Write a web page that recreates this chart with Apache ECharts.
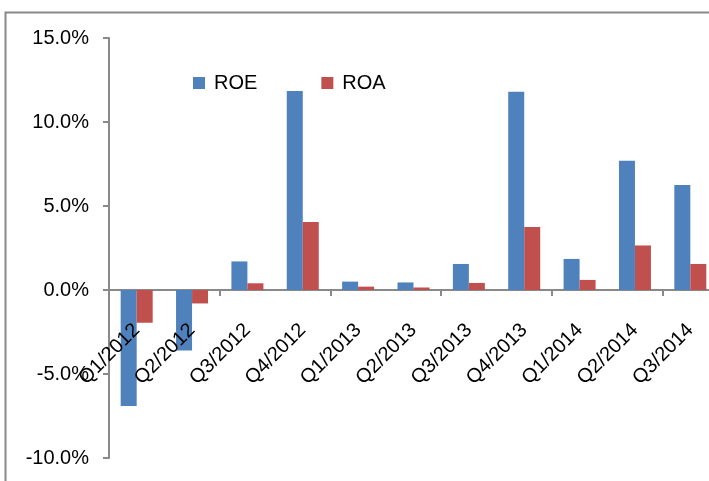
<!DOCTYPE html>
<html>
<head>
<meta charset="utf-8">
<script src="https://cdn.jsdelivr.net/npm/echarts@6/dist/echarts.min.js"></script>
<style>
html,body{margin:0;padding:0;background:#fff;}
#chart{width:709px;height:481px;}
</style>
</head>
<body>
<div id="chart"></div>
<script>
var categories = ['Q1/2012','Q2/2012','Q3/2012','Q4/2012','Q1/2013','Q2/2013','Q3/2013','Q4/2013','Q1/2014','Q2/2014','Q3/2014'];
var roe = [-6.9, -3.6, 1.7, 11.85, 0.5, 0.45, 1.55, 11.8, 1.85, 7.7, 6.25];
var roa = [-1.95, -0.8, 0.4, 4.05, 0.2, 0.15, 0.42, 3.75, 0.6, 2.65, 1.55];
var yMin = -10, yMax = 15, yStep = 5;

var FONT = "'Liberation Sans', Arial, sans-serif";
var GRID_TOP = 38, GRID_H = 420;
// label axis sits where the value axis crosses zero
var zeroOffset = -GRID_H * (0 - yMin) / (yMax - yMin);

var chart = echarts.init(document.getElementById('chart'), null, {renderer: 'canvas'});
chart.setOption({
  animation: false,
  backgroundColor: '#fff',
  textStyle: {fontFamily: FONT},
  graphic: [{
    type: 'rect', left: 3, top: 10, z: 100,
    shape: {x: 0, y: 0, width: 800, height: 600},
    style: {fill: 'none', stroke: '#888', lineWidth: 2}
  }],
  legend: {
    left: 193, top: 73, padding: 0,
    itemWidth: 12, itemHeight: 12, itemGap: 64,
    icon: 'rect',
    textStyle: {fontSize: 20, color: '#000', fontFamily: FONT, padding: [0,0,0,4]},
    data: ['ROE', 'ROA']
  },
  grid: {left: 109, top: GRID_TOP, width: 609, height: GRID_H, containLabel: false, outerBoundsMode: 'none'},
  xAxis: [{
    type: 'category',
    data: categories,
    axisLine: {show: true, onZero: true, lineStyle: {color: '#898989', width: 2}},
    axisTick: {show: true, length: 6, lineStyle: {color: '#898989', width: 2}},
    axisLabel: {show: false},
    splitLine: {show: false}
  }, {
    type: 'category',
    data: categories,
    position: 'bottom',
    offset: zeroOffset,
    z: 10,
    axisLine: {show: false, onZero: false},
    axisTick: {show: false},
    axisLabel: {show: true, rotate: 45, interval: 0, margin: 37, fontSize: 20, color: '#000', fontFamily: FONT},
    splitLine: {show: false}
  }],
  yAxis: {
    type: 'value',
    min: yMin, max: yMax, interval: yStep,
    axisLine: {show: true, lineStyle: {color: '#898989', width: 2}},
    axisTick: {show: true, length: 6, lineStyle: {color: '#898989', width: 2}},
    axisLabel: {margin: 20, fontSize: 20, color: '#000', fontFamily: FONT,
      formatter: function(v){ return v.toFixed(1) + '%'; }},
    splitLine: {show: false}
  },
  series: [
    {name: 'ROE', type: 'bar', xAxisIndex: 0, data: roe, barWidth: 16, barGap: '0%',
     itemStyle: {color: '#4F81BD'}},
    {name: 'ROA', type: 'bar', xAxisIndex: 0, data: roa, barWidth: 16,
     itemStyle: {color: '#C0504D'}}
  ]
});
</script>
</body>
</html>
